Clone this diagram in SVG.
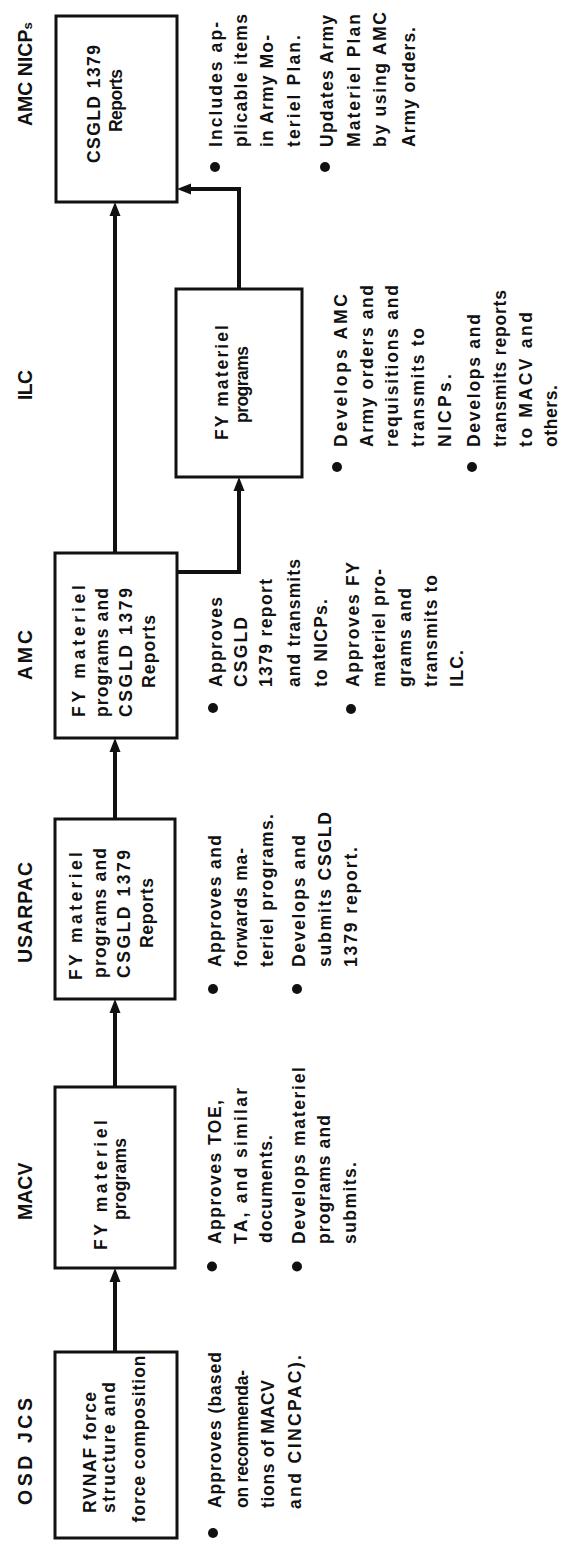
<svg xmlns="http://www.w3.org/2000/svg" width="561" height="1542" viewBox="0 0 561 1542">
<style>
.bg{fill:#ffffff}
.box{fill:#ffffff;stroke:#111;stroke-width:3}
.h{font-family:"Liberation Sans",Arial,sans-serif;font-weight:bold;font-size:19.5px;fill:#111}
.t{font-family:"Liberation Sans",Arial,sans-serif;font-weight:bold;font-size:17.5px;fill:#111}
.dot{fill:#111}
.con{fill:none;stroke:#111;stroke-width:4;stroke-linejoin:miter;stroke-linecap:butt}
</style>
<defs>
<marker id="ah" markerUnits="userSpaceOnUse" markerWidth="16" markerHeight="14" viewBox="0 -7 16 14" refX="1" refY="0" orient="auto">
<path d="M0,-5.5 L14,0 L0,5.5 z" fill="#111"/>
</marker>
</defs>
<rect class="bg" x="0" y="0" width="561" height="1542"/>
<g transform="translate(0,1542) rotate(-90)">
<g id="connectors">
<path class="con" d="M190,115 H261" marker-end="url(#ah)"/>
<path class="con" d="M455,115 H530" marker-end="url(#ah)"/>
<path class="con" d="M723,115 H791" marker-end="url(#ah)"/>
<path class="con" d="M989,115 H1327" marker-end="url(#ah)"/>
<path class="con" d="M970,177 V239 H1052" marker-end="url(#ah)"/>
<path class="con" d="M1253,239 H1353 V190" marker-end="url(#ah)"/>
</g>
<g id="node-osd-jcs">
<text class="h" x="37" y="32" textLength="107">OSD JCS</text>
<rect class="box" x="4" y="55" width="186" height="122"/>
<text class="t" x="29" y="96" textLength="121">RVNAF force</text>
<text class="t" x="29" y="115" textLength="131">structure and</text>
<text class="t" x="19.5" y="145" textLength="167">force composition</text>
<circle class="dot" cx="9" cy="213" r="5"/>
<text class="t" x="34" y="221" textLength="156">Approves (based</text>
<text class="t" x="34" y="247.5" textLength="138">on recommenda-</text>
<text class="t" x="34" y="274" textLength="128">tions of MACV</text>
<text class="t" x="33" y="301" textLength="154">and CINCPAC).</text>
</g>
<g id="node-macv">
<text class="h" x="322" y="32">MACV</text>
<rect class="box" x="274" y="55" width="181" height="120"/>
<text class="t" x="292" y="107" textLength="130">FY materiel</text>
<text class="t" x="322" y="126" textLength="82">programs</text>
<circle class="dot" cx="275.5" cy="212" r="5"/>
<text class="t" x="298" y="221" textLength="144">Approves TOE,</text>
<text class="t" x="298" y="247" textLength="156">TA, and similar</text>
<text class="t" x="299" y="272" textLength="108">documents.</text>
<circle class="dot" cx="275.5" cy="297" r="5"/>
<text class="t" x="298" y="305" textLength="177">Develops materiel</text>
<text class="t" x="298" y="330" textLength="129">programs and</text>
<text class="t" x="298" y="356" textLength="82">submits.</text>
</g>
<g id="node-usarpac">
<text class="h" x="579" y="32" textLength="101">USARPAC</text>
<rect class="box" x="543" y="55" width="180" height="120"/>
<text class="t" x="562" y="82" textLength="128">FY materiel</text>
<text class="t" x="564" y="106" textLength="130">programs and</text>
<text class="t" x="564" y="130" textLength="128">CSGLD 1379</text>
<text class="t" x="594" y="153" textLength="70">Reports</text>
<circle class="dot" cx="553" cy="213" r="5"/>
<text class="t" x="575" y="221" textLength="132">Approves and</text>
<text class="t" x="575" y="247" textLength="119">forwards ma-</text>
<text class="t" x="575" y="273" textLength="153">teriel programs.</text>
<circle class="dot" cx="553" cy="297" r="5"/>
<text class="t" x="575" y="305" textLength="132">Develops and</text>
<text class="t" x="575" y="331" textLength="155">submits CSGLD</text>
<text class="t" x="575" y="357" textLength="120">1379 report.</text>
</g>
<g id="node-amc">
<text class="h" x="862" y="32" textLength="50">AMC</text>
<rect class="box" x="804" y="55" width="185" height="122"/>
<text class="t" x="825" y="85" textLength="132">FY materiel</text>
<text class="t" x="825" y="108" textLength="129">programs and</text>
<text class="t" x="825" y="132" textLength="129">CSGLD 1379</text>
<text class="t" x="854" y="155" textLength="73">Reports</text>
<circle class="dot" cx="834" cy="213" r="5"/>
<text class="t" x="855" y="222" textLength="90">Approves</text>
<text class="t" x="855" y="247" textLength="70">CSGLD</text>
<text class="t" x="855" y="272" textLength="108">1379 report</text>
<text class="t" x="855" y="300" textLength="128">and transmits</text>
<text class="t" x="855" y="327" textLength="88">to NICPs.</text>
<circle class="dot" cx="833" cy="351" r="5"/>
<text class="t" x="855" y="359" textLength="125">Approves FY</text>
<text class="t" x="855" y="385" textLength="118">materiel pro-</text>
<text class="t" x="855" y="411" textLength="99">grams and</text>
<text class="t" x="855" y="437" textLength="112">transmits to</text>
<text class="t" x="855" y="463" textLength="37">ILC.</text>
</g>
<g id="node-ilc">
<text class="h" x="1142" y="32" textLength="30">ILC</text>
<rect class="box" x="1065" y="176" width="188" height="126"/>
<text class="t" x="1102" y="228" textLength="115">FY materiel</text>
<text class="t" x="1119" y="248" textLength="77">programs</text>
<circle class="dot" cx="1075" cy="337" r="5"/>
<text class="t" x="1095" y="347" textLength="153">Develops AMC</text>
<text class="t" x="1095" y="373" textLength="162">Army orders and</text>
<text class="t" x="1095" y="398" textLength="162">requisitions and</text>
<text class="t" x="1095" y="424" textLength="119">transmits to</text>
<text class="t" x="1095" y="451" textLength="73">NICPs.</text>
<circle class="dot" cx="1075" cy="472" r="5"/>
<text class="t" x="1095" y="480" textLength="133">Develops and</text>
<text class="t" x="1095" y="506" textLength="157">transmits reports</text>
<text class="t" x="1095" y="532" textLength="135">to MACV and</text>
<text class="t" x="1095" y="557" textLength="62">others.</text>
</g>
<g id="node-amc-nicps">
<text class="h" x="1416" y="32" font-size="17.5">AMC NICP<tspan font-size="13">s</tspan></text>
<rect class="box" x="1340" y="56" width="186" height="121"/>
<text class="t" x="1379" y="100" textLength="118">CSGLD 1379</text>
<text class="t" x="1410" y="122" textLength="63">Reports</text>
<circle class="dot" cx="1375" cy="215" r="5"/>
<text class="t" x="1395" y="222" textLength="125">Includes ap-</text>
<text class="t" x="1395" y="247" textLength="133">plicable items</text>
<text class="t" x="1395" y="273" textLength="112">in Army Mo-</text>
<text class="t" x="1395" y="300" textLength="112">teriel Plan.</text>
<circle class="dot" cx="1375" cy="325" r="5"/>
<text class="t" x="1395" y="333" textLength="132">Updates Army</text>
<text class="t" x="1395" y="360" textLength="133">Materiel Plan</text>
<text class="t" x="1395" y="386" textLength="135">by using AMC</text>
<text class="t" x="1395" y="415" textLength="120">Army orders.</text>
</g>
</g>
</svg>
